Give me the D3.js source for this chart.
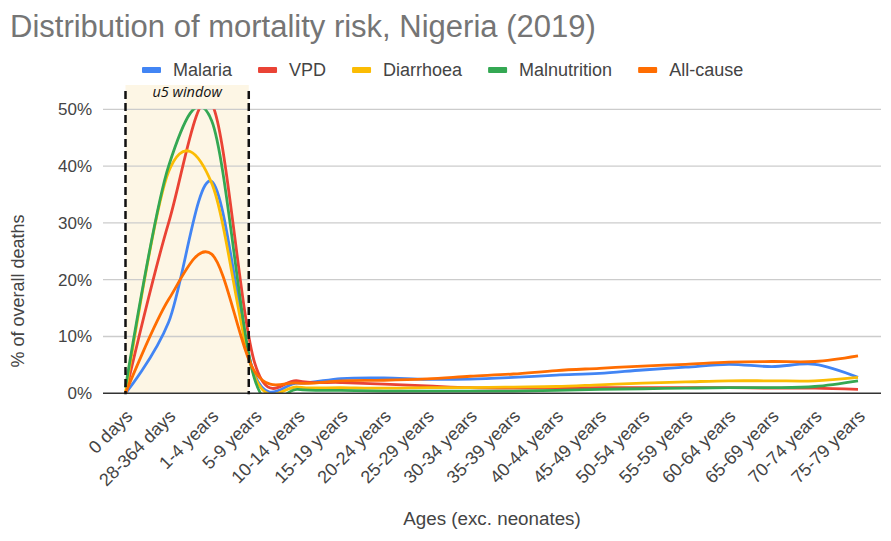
<!DOCTYPE html>
<html lang="en">
<head>
<meta charset="UTF-8">
<title>Distribution of mortality risk, Nigeria (2019)</title>
<script src="https://d3js.org/d3.v7.min.js"></script>
<style>
  body { margin: 0; background: #fff; }
  text { font-family: "Liberation Sans", Arial, sans-serif; }
</style>
</head>
<body>
<svg width="891" height="541"></svg>
<script>
// age groups on the x axis
var ages = ["0 days", "28-364 days", "1-4 years", "5-9 years", "10-14 years", "15-19 years",
    "20-24 years", "25-29 years", "30-34 years", "35-39 years", "40-44 years", "45-49 years",
    "50-54 years", "55-59 years", "60-64 years", "65-69 years", "70-74 years", "75-79 years"]

// share of deaths (%)
var malaria      = [0, 12.5, 37.3, 3.2, 1.8, 2.6, 2.7, 2.45, 2.5, 2.8, 3.2, 3.5, 4.1, 4.6, 5.1, 4.7, 5.1, 2.8]
var vpd          = [0, 30, 51, 5.3, 2.2, 1.9, 1.6, 1.3, 1.0, 0.9, 0.9, 1.0, 1.0, 1.0, 1.0, 0.9, 0.9, 0.7]
var diarrhoea    = [0, 39, 37, 2.9, 1.1, 1.0, 0.9, 1.0, 1.0, 1.1, 1.2, 1.5, 1.8, 2.0, 2.2, 2.2, 2.2, 2.8]
var malnutrition = [1, 40, 48, 2.4, 0.7, 0.5, 0.4, 0.4, 0.4, 0.4, 0.5, 0.7, 0.8, 0.9, 1.0, 1.0, 1.2, 2.2]
var allCause     = [0, 16.5, 24.5, 3.8, 1.8, 2.2, 2.3, 2.55, 3.0, 3.4, 4.0, 4.4, 4.8, 5.1, 5.5, 5.6, 5.6, 6.6]

var seriesNames  = ["Malaria", "VPD", "Diarrhoea", "Malnutrition", "All-cause"]
var seriesColors = ["#4285f4", "#ea4335", "#fbbc04", "#34a853", "#ff6d01"]
var yTicks = [0, 10, 20, 30, 40, 50]

var series = [malaria, vpd, diarrhoea, malnutrition, allCause].map(function (v, i) {
    return {name: seriesNames[i], color: seriesColors[i], values: v}
})

var svg = d3.select("svg")
var plotLeft = 103, plotRight = 881, plotTop = 109.3, plotBottom = 393.3

var x = d3.scalePoint().domain(ages).range([125.5, 858])
var y = d3.scaleLinear().domain([0, 50]).range([plotBottom, plotTop])

// title
svg.append("text").attr("x", 10).attr("y", 37)
    .attr("font-size", 31).attr("fill", "#757575")
    .text("Distribution of mortality risk, Nigeria (2019)")

// u5 window box
var boxLeft = x("0 days"), boxRight = x("5-9 years") - 6
svg.append("rect")
    .attr("x", boxLeft).attr("y", 85)
    .attr("width", boxRight - boxLeft).attr("height", plotBottom - 85)
    .attr("fill", "#fdf6e5")

// gridlines
svg.append("g").selectAll("line").data(yTicks.slice(1)).enter().append("line")
    .attr("x1", plotLeft).attr("x2", plotRight)
    .attr("y1", d => y(d)).attr("y2", d => y(d))
    .attr("stroke", "#cccccc").attr("stroke-width", 1.3)

// y tick labels
svg.append("g").selectAll("text").data(yTicks).enter().append("text")
    .attr("x", 92).attr("y", d => y(d)).attr("dy", "0.35em")
    .attr("text-anchor", "end").attr("font-size", 17).attr("fill", "#444")
    .text(d => d + "%")

// y axis title
svg.append("text")
    .attr("transform", "translate(24,291) rotate(-90)")
    .attr("text-anchor", "middle").attr("font-size", 18).attr("fill", "#444")
    .text("% of overall deaths")

// x tick labels, slanted
svg.append("g").selectAll("text").data(ages).enter().append("text")
    .attr("transform", d => `translate(${x(d) + 8},${plotBottom + 24}) rotate(-45)`)
    .attr("text-anchor", "end").attr("font-size", 18).attr("fill", "#444")
    .text(d => d)

// x axis title
svg.append("text").attr("x", 492).attr("y", 525)
    .attr("text-anchor", "middle").attr("font-size", 18.8).attr("fill", "#444")
    .text("Ages (exc. neonates)")

// clip to the chart area
svg.append("clipPath").attr("id", "plotclip").append("rect")
    .attr("x", plotLeft).attr("y", plotTop)
    .attr("width", plotRight - plotLeft).attr("height", plotBottom - plotTop)

var line = d3.line()
    .x((d, i) => x(ages[i]))
    .y(d => y(d))
    .curve(d3.curveCardinal.tension(0))

svg.append("g").attr("clip-path", "url(#plotclip)")
    .selectAll("path").data(series).enter().append("path")
    .attr("d", d => line(d.values))
    .attr("fill", "none")
    .attr("stroke", d => d.color)
    .attr("stroke-width", 2.8)
    .attr("stroke-linejoin", "round")

// baseline
svg.append("line")
    .attr("x1", plotLeft).attr("x2", plotRight)
    .attr("y1", y(0)).attr("y2", y(0))
    .attr("stroke", "#333").attr("stroke-width", 1.5)

// dashed borders of the u5 window
svg.append("g").selectAll("line").data([boxLeft, boxRight]).enter().append("line")
    .attr("x1", d => d).attr("x2", d => d)
    .attr("y1", 91).attr("y2", plotBottom + 1)
    .attr("stroke", "#111").attr("stroke-width", 2.5)
    .attr("stroke-dasharray", "8,4")

svg.append("text")
    .attr("x", (boxLeft + boxRight) / 2).attr("y", 97)
    .attr("text-anchor", "middle").attr("font-size", 14.5)
    .attr("font-style", "italic").attr("fill", "#111")
    .style("font-family", "'Open Sans', sans-serif")
    .text("u5 window")

// legend
var legend = svg.append("g")
var lx = 142
series.forEach(function (s) {
    legend.append("rect")
        .attr("x", lx).attr("y", 67).attr("width", 19).attr("height", 6)
        .attr("rx", 1).attr("fill", s.color)
    var t = legend.append("text")
        .attr("x", lx + 31).attr("y", 70).attr("dy", "0.35em")
        .attr("font-size", 18).attr("fill", "#444")
        .text(s.name)
    lx = lx + 31 + t.node().getComputedTextLength() + 26
})
</script>
</body>
</html>
